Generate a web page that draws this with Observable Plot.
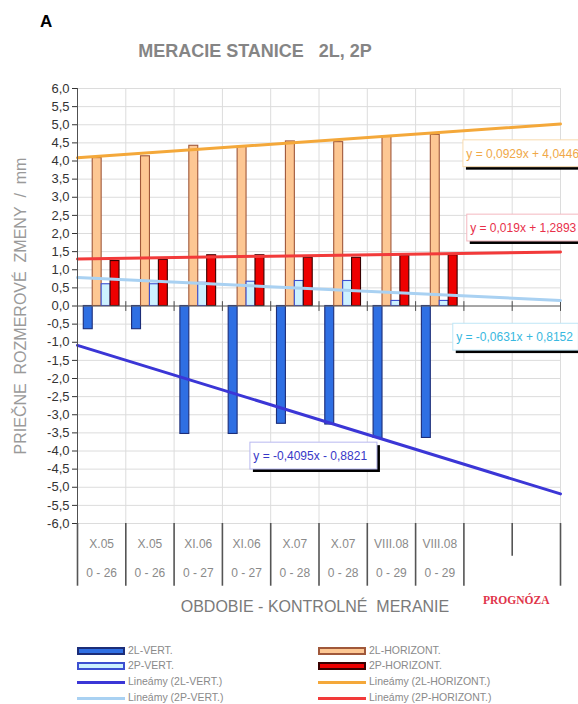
<!DOCTYPE html>
<html><head><meta charset="utf-8">
<script src="https://cdn.jsdelivr.net/npm/d3@7"></script>
<script src="https://cdn.jsdelivr.net/npm/@observablehq/plot@0.6"></script>
<style>
body{margin:0;background:#fff;font-family:"Liberation Sans",Arial,sans-serif;}
#wrap{position:relative;width:578px;height:704px;overflow:hidden;background:#fff;}
#chart{position:absolute;left:0;top:0;}
.abs{position:absolute;white-space:pre;line-height:1;}
</style></head><body>
<div id="wrap">
  <div id="chart"></div>
  <div class="abs" style="left:40px;top:13px;font-weight:bold;font-size:17px;color:#000">A</div>
  <div class="abs" style="left:0;width:510px;text-align:center;top:42px;font-weight:bold;font-size:18px;color:#858585">MERACIE STANICE   2L, 2P</div>
  <div class="abs" style="left:0;width:630px;text-align:center;top:599px;font-size:16px;color:#7a7a7a">OBDOBIE - KONTROLNÉ  MERANIE</div>
  <div class="abs" style="left:483px;top:595px;font-family:'Liberation Serif','Times New Roman',serif;font-weight:bold;font-size:11.5px;color:#e0344a">PROGNÓZA</div>
  <div id="legend"></div>
</div>
<script>
// ---- data ----
const categories = ["X.05","X.05","XI.06","XI.06","X.07","X.07","VIII.08","VIII.08"];
const ranges = ["0 - 26","0 - 26","0 - 27","0 - 27","0 - 28","0 - 28","0 - 29","0 - 29"];
const seriesNames = ["2L-VERT.","2L-HORIZONT.","2P-VERT.","2P-HORIZONT."];
const vert2L  = [-0.64,-0.64,-3.53,-3.53,-3.25,-3.27,-3.64,-3.64];
const horiz2L = [4.08,4.13,4.42,4.39,4.54,4.52,4.68,4.72];
const vert2P  = [0.60,0.60,0.64,0.67,0.69,0.69,0.14,0.14];
const horiz2P = [1.24,1.27,1.40,1.40,1.33,1.33,1.38,1.40];
const trendSlopes = [-0.4095, 0.0929, -0.0631, 0.019];
const trendIntercepts = [-0.8821, 4.0446, 0.8152, 1.2893];
const equationTexts = ["y = -0,4095x - 0,8821","y = 0,0929x + 4,0446","y = -0,0631x + 0,8152","y = 0,019x + 1,2893"];
const trendNames = ["Lineámy (2L-VERT.)","Lineámy (2L-HORIZONT.)","Lineámy (2P-VERT.)","Lineámy (2P-HORIZONT.)"];
const yTicks = [-6,-5.5,-5,-4.5,-4,-3.5,-3,-2.5,-2,-1.5,-1,-0.5,0,0.5,1,1.5,2,2.5,3,3.5,4,4.5,5,5.5,6];
const yTitle = "PRIEČNE\u00a0 ROZMEROVÉ\u00a0 ZMENY\u00a0 /\u00a0 mm";
const nSlots = 10; // 8 measured + 2 forecast slots

// ---- styles / layout ----
const fills   = ["#2f6fe3","#fdc793","#cdf1ff","#ee0000"];
const strokes = ["#1c2d78","#a0583a","#3c4fd0","#3a0000"];
const trendColors = ["#3b36d6","#f4a83a","#a9d1f2","#f23a3a"];
const eqTextColors = ["#3838c8","#f0a848","#38b8e0","#e8304a"];
const eqBoxStroke = ["#b8b8f0","#f8dcb0","#bfe6f6","#f4b8c0"];
// label box placement (data units): left x, centre y, width
const eqPlace = [
  {x: 4.08, y: -4.14, w: 2.63},
  {x: 8.49, y: 4.20, w: 2.60},
  {x: 8.28, y: -0.86, w: 2.60},
  {x: 8.57, y: 2.15, w: 2.40}
];
const bw = 0.185, pad = 0.13, boxH = 0.37;

const seriesValues = [vert2L, horiz2L, vert2P, horiz2P];
const boundaries = d3.range(nSlots + 1).map(k => k + 0.5);
const fmt = d => d.toFixed(1).replace(".", ",");

const barMarks = seriesValues.map((vals, s) =>
  Plot.rect(vals.map((v, i) => ({i, v})), {
    x1: d => d.i + 0.5 + pad + s * bw,
    x2: d => d.i + 0.5 + pad + (s + 1) * bw,
    y1: 0, y2: "v",
    fill: fills[s], stroke: strokes[s], strokeWidth: 1.1
  })
);
const trendMarks = trendSlopes.map((m, s) =>
  Plot.line([0.5, nSlots + 0.5].map(x => ({x, y: m * x + trendIntercepts[s]})),
    {x: "x", y: "y", stroke: trendColors[s], strokeWidth: 3})
);
const eqData = equationTexts.map((t, s) => ({t, s, ...eqPlace[s]}));
const eqMarks = [
  Plot.rect(eqData, {x1: "x", x2: d => d.x + d.w, y1: d => d.y - boxH, y2: d => d.y + boxH, fill: "#000", dx: 3, dy: 3}),
  Plot.rect(eqData, {x1: "x", x2: d => d.x + d.w, y1: d => d.y - boxH, y2: d => d.y + boxH, fill: "#fff", stroke: d => eqBoxStroke[d.s], strokeWidth: 1}),
  Plot.text(eqData, {x: d => d.x + 0.06, y: "y", text: "t", textAnchor: "start", fontSize: 12, fill: d => eqTextColors[d.s]})
];

const table = categories.map((c, i) => ({x: i + 1, c, r: ranges[i]}));

const chart = Plot.plot({
  width: 578, height: 625,
  marginTop: 88, marginBottom: 102, marginLeft: 77, marginRight: 18,
  x: {type: "linear", domain: [0.5, nSlots + 0.5], axis: null},
  y: {domain: [-6, 6], axis: null},
  style: {fontFamily: "'Liberation Sans', Arial, sans-serif", background: "white"},
  marks: [
    Plot.gridY(yTicks, {stroke: "#dcdcdc", strokeOpacity: 1}),
    Plot.ruleX(boundaries.slice(1), {stroke: "#dcdcdc"}),
    ...barMarks,
    Plot.ruleY([0], {stroke: "#606060"}),
    Plot.ruleX(boundaries.slice(1), {y1: 0.12, y2: -0.15, stroke: "#505050"}),
    ...trendMarks,
    ...eqMarks,
    Plot.ruleX([0.5], {stroke: "#505050"}),
    Plot.axisY(yTicks, {tickFormat: fmt, tickSize: 5, tickPadding: 3, fontSize: 13, color: "#333", label: null}),
    Plot.ruleX(boundaries, {y1: -6, y2: d => d === nSlots - 0.5 ? -6.9 : -7.73, stroke: "#555", strokeWidth: 1.6}),
    Plot.text(table, {x: "x", text: "c", frameAnchor: "bottom", dy: 24, fontSize: 12, fill: "#8a8a8a"}),
    Plot.text(table, {x: "x", text: "r", frameAnchor: "bottom", dy: 53, fontSize: 12, fill: "#8a8a8a"}),
    Plot.text([yTitle], {frameAnchor: "left", textAnchor: "middle", lineAnchor: "middle", dx: -57, rotate: -90, fontSize: 16, fill: "#9a9a9a"})
  ]
});
document.getElementById("chart").appendChild(chart);

// ---- legend ----
const legendRows = [651, 666, 682, 698];
const legendItems = [
  {label: seriesNames[0], kind: "bar", s: 0, col: 0, row: 0},
  {label: seriesNames[2], kind: "bar", s: 2, col: 0, row: 1},
  {label: trendNames[0], kind: "line", s: 0, col: 0, row: 2},
  {label: trendNames[2], kind: "line", s: 2, col: 0, row: 3},
  {label: seriesNames[1], kind: "bar", s: 1, col: 1, row: 0},
  {label: seriesNames[3], kind: "bar", s: 3, col: 1, row: 1},
  {label: trendNames[1], kind: "line", s: 1, col: 1, row: 2},
  {label: trendNames[3], kind: "line", s: 3, col: 1, row: 3}
];
const colX = [77, 318];
const leg = document.getElementById("legend");
legendItems.forEach(it => {
  const cy = legendRows[it.row];
  const sw = document.createElement("div");
  sw.className = "abs";
  if (it.kind === "bar") {
    Object.assign(sw.style, {left: colX[it.col] + "px", top: (cy - 4) + "px", width: "44px", height: "4px",
      background: fills[it.s], border: "2px solid " + strokes[it.s]});
  } else {
    Object.assign(sw.style, {left: colX[it.col] + "px", top: (cy - 1.5) + "px", width: "48px", height: "3px",
      background: trendColors[it.s]});
  }
  leg.appendChild(sw);
  const tx = document.createElement("div");
  tx.className = "abs";
  tx.textContent = it.label;
  Object.assign(tx.style, {left: (colX[it.col] + 51) + "px", top: (cy - 6) + "px", fontSize: "10.5px", color: "#8a8a8a"});
  leg.appendChild(tx);
});
</script>
</body></html>
